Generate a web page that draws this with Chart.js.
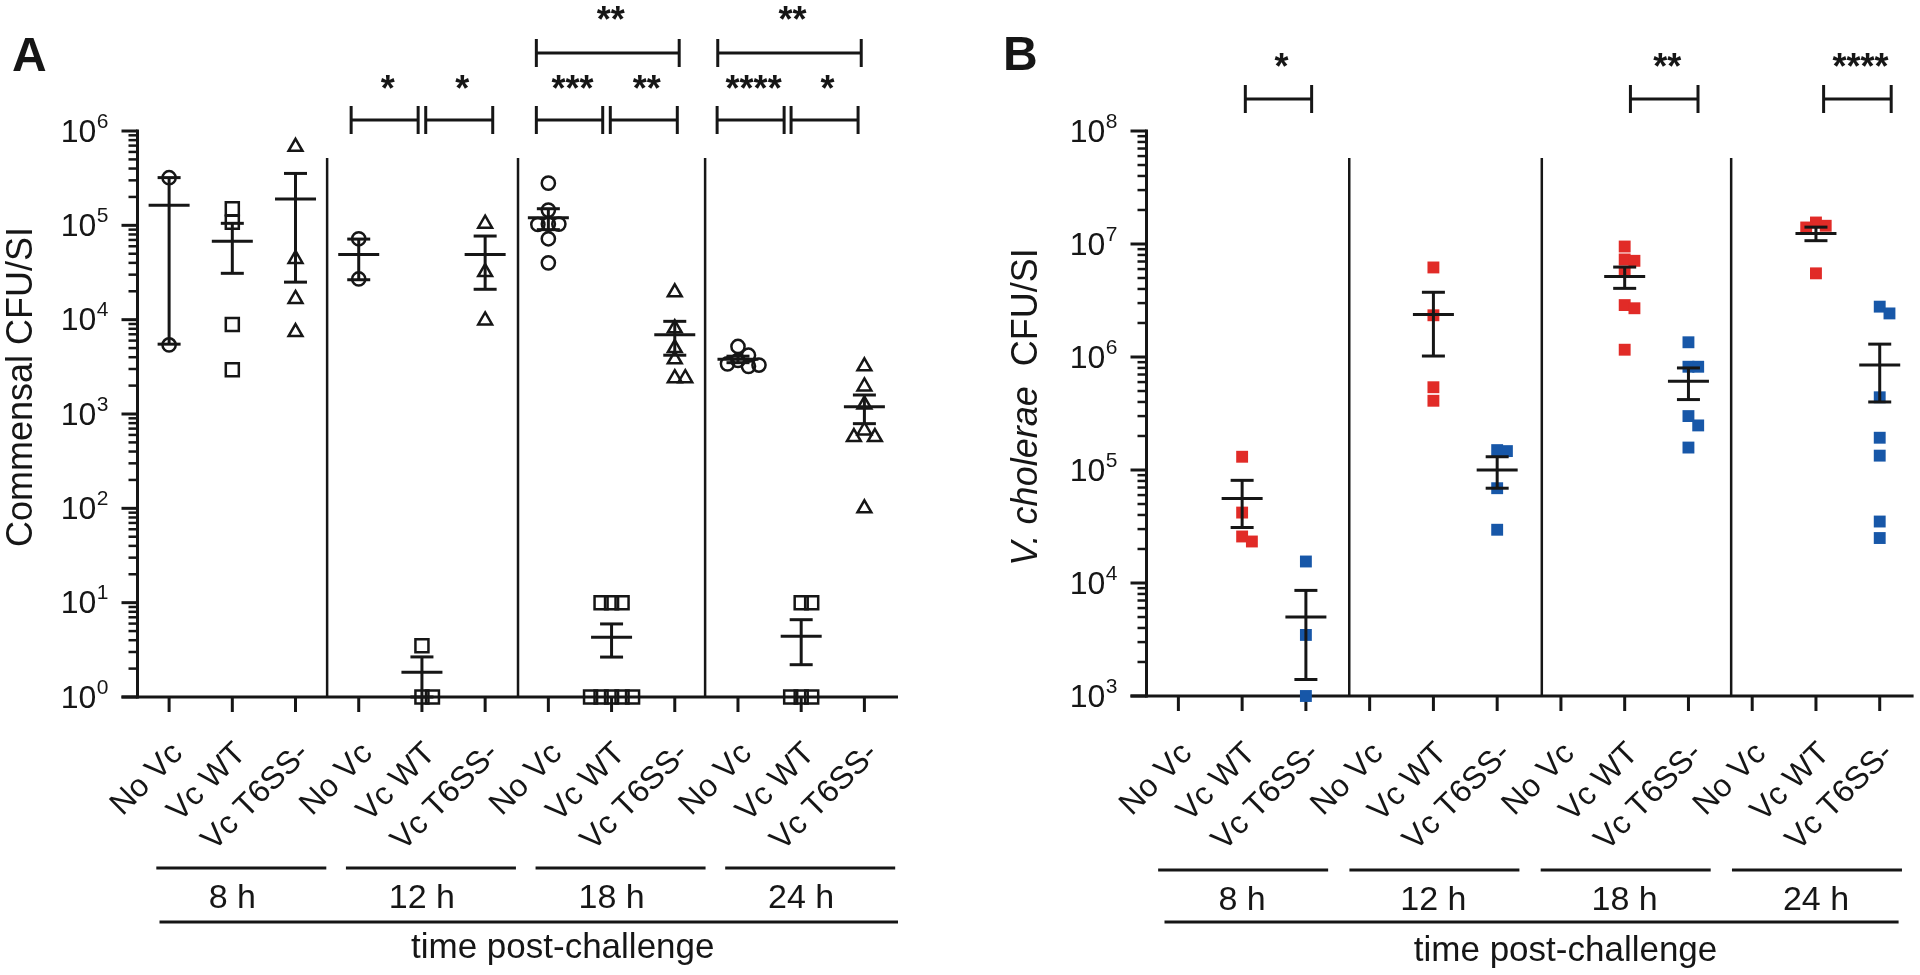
<!DOCTYPE html>
<html><head><meta charset="utf-8">
<script src="https://cdn.jsdelivr.net/npm/chart.js@4.4.1/dist/chart.umd.min.js"></script>
<style>
html,body{margin:0;padding:0;background:#fff;overflow:hidden}
#wrap{position:relative;width:1920px;height:975px;background:#fff}
canvas{position:absolute;top:0;width:960px;height:975px}
#cA{left:0}#cB{left:960px}
</style></head><body>
<div id="wrap"><canvas id="cA" width="960" height="975"></canvas><canvas id="cB" width="960" height="975"></canvas></div>
<script>
// ---------------- data ----------------
const categories = ['No Vc','Vc WT','Vc T6SS-','No Vc','Vc WT','Vc T6SS-','No Vc','Vc WT','Vc T6SS-','No Vc','Vc WT','Vc T6SS-'];
const timeGroups = ['8 h','12 h','18 h','24 h'];
const xTitle = 'time post-challenge';
const yTickExpA = [0,1,2,3,4,5,6];
const yTickExpB = [3,4,5,6,7,8];

// Panel A: commensal CFU/SI, one list per time point (8, 12, 18, 24 h)
const commensalNoVc = [[3.2e5,5.4e3],[7.2e4,2.7e4],[2.8e5,1.45e5,1.03e5,1.03e5,1.02e5,7.2e4,4.0e4],[5.2e3,4.2e3,3.7e3,3.4e3,3.3e3,3.2e3]];
const commensalVcWT = [[1.5e5,1.08e5,8.9e3,2.95e3],[3.5,1,1],[10,10,10,1,1,1,1,1],[10,10,1,1,1]];
const commensalT6SS = [[6.8e5,4.4e4,1.66e4,7.4e3],[1.04e5,3.2e4,9.8e3],[1.95e4,8.1e3,5.0e3,3.8e3,2.4e3,2.4e3],[3.2e3,1.96e3,1.26e3,6.7e2,5.7e2,5.7e2,1.0e2]];
const commensalMean = [1.63e5,6.8e4,1.9e5,4.9e4,1.83,4.9e4,1.2e5,4.3,6.9e3,3.8e3,4.4,1.19e3];
const commensalSEM  = [1.575e5,3.7e4,1.65e5,2.25e4,0.83,2.8e4,3.0e4,1.65,2.7e3,3.0e2,2.2,4.0e2];

// Panel B: V. cholerae CFU/SI
const choleraeWT   = [[1.31e5,4.2e4,2.58e4,2.33e4],[6.2e6,2.34e6,5.4e5,4.1e5],[9.5e6,7.3e6,7.1e6,5.7e6,2.88e6,2.7e6,1.16e6],[1.55e7,1.45e7,1.4e7,5.5e6]];
const choleraeT6SS = [[1.55e4,3.47e3,1.0e3],[1.47e5,1.5e5,6.9e4,2.96e4],[1.35e6,8.2e5,8.2e5,3.0e5,2.48e5,1.58e5],[2.79e6,2.43e6,4.4e5,1.93e5,1.34e5,3.5e4,2.5e4]];
const choleraeMean = [null,5.6e4,5.0e3,null,2.38e6,1.0e5,null,5.15e6,6.1e5,null,1.24e7,8.5e5];
const choleraeSEM  = [null,2.5e4,3.6e3,null,1.36e6,3.1e4,null,1.1e6,1.9e5,null,1.7e6,4.5e5];

// significance brackets (category-axis units)
const bracketFromA  = [2.88,4.06,5.81,6.98,5.81,8.67,9.84,8.68];
const bracketToA    = [3.94,5.12,6.86,8.04,8.07,9.73,10.90,10.95];
const bracketLevelA = [0,0,0,0,1,0,0,1];
const bracketStarsA = ['*','*','***','**','**','****','*','**'];
const bracketFromB  = [1.05,7.09,10.12];
const bracketToB    = [2.09,8.15,11.18];
const bracketLevelB = [0,0,0];
const bracketStarsB = ['*','**','****'];
const dividersA = [2.5,5.52,8.48];
const dividersB = [2.68,5.7,8.67];

// ---------------- drawing ----------------
const INK = '#161616';
const FONT = '"Liberation Sans", Arial, Helvetica, sans-serif';
const RED = '#e12b27', BLUE = '#1757a8';

function seg(ctx,x1,y1,x2,y2){ctx.beginPath();ctx.moveTo(x1,y1);ctx.lineTo(x2,y2);ctx.stroke();}

function panelPlugin(p){
  return {
    id:'panel'+p.letter,
    beforeDatasetsDraw(chart){
      const ctx=chart.ctx, xs=chart.scales.x, ys=chart.scales.y;
      const X=v=>xs.getPixelForValue(v), Y=v=>ys.getPixelForValue(v);
      const L=chart.chartArea.left, R=chart.chartArea.right;
      const T=Y(ys.max), B=Y(ys.min);
      ctx.save();
      ctx.strokeStyle=INK; ctx.fillStyle=INK; ctx.lineCap='butt';
      // dividers
      ctx.lineWidth=2.5;
      p.dividers.forEach(d=>seg(ctx,X(d),T+27,X(d),B));
      // y axis
      ctx.lineWidth=3;
      seg(ctx,L,T-1.5,L,B+1.5);
      // x axis
      seg(ctx,L-16,B,R+2,B);
      // x ticks
      categories.forEach((c,i)=>seg(ctx,X(i),B,X(i),B+15));
      // y ticks
      p.yExp.forEach((e,k)=>{
        const y=Y(Math.pow(10,e));
        ctx.lineWidth=3; seg(ctx,L-16,y,L,y);
        if(k<p.yExp.length-1){
          ctx.lineWidth=2.5;
          for(let m=2;m<=9;m++){const ym=Y(m*Math.pow(10,e)); seg(ctx,L-9,ym,L,ym);}
        }
        // label 10^e
        ctx.textAlign='right'; ctx.textBaseline='middle';
        ctx.font='21px '+FONT;
        const sx=L-29; const es=String(e);
        ctx.fillText(es,sx,y-9);
        const w=ctx.measureText(es).width;
        ctx.font='32px '+FONT;
        ctx.fillText('10',sx-w-0.5,y+2);
      });
      // category labels (rotated)
      ctx.font='32px '+FONT;
      categories.forEach((c,i)=>{
        ctx.save(); ctx.translate(X(i)+p.catDX,p.catY); ctx.rotate(-Math.PI/4);
        ctx.textAlign='right'; ctx.textBaseline='alphabetic'; ctx.fillText(c,0,0); ctx.restore();
      });
      // group lines & labels
      ctx.lineWidth=3;
      timeGroups.forEach((g,k)=>{
        const cx=X(3*k+1);
        seg(ctx,cx+p.groupDX-85,p.groupLineY,cx+p.groupDX+85,p.groupLineY);
        ctx.font='34px '+FONT; ctx.textAlign='center'; ctx.textBaseline='alphabetic';
        ctx.fillText(g,cx,p.groupTextY);
      });
      const fl=X(-0.5)+p.fullL, fr=X(11.5)+p.fullR;
      seg(ctx,fl,922,fr,922);
      ctx.font='35px '+FONT; ctx.textAlign='center';
      ctx.fillText(xTitle,(fl+fr)/2+34,p.xTitleY);
      // y title
      ctx.save(); ctx.translate(p.yTitleX,p.yTitleY); ctx.rotate(-Math.PI/2);
      ctx.textBaseline='middle';
      if(p.letter==='A'){
        ctx.font='36px '+FONT; ctx.textAlign='center'; ctx.fillText('Commensal CFU/SI',0,0);
      } else {
        const it='V. cholerae', rest='  CFU/SI';
        ctx.font='italic 36px '+FONT; const w1=ctx.measureText(it).width;
        ctx.font='36px '+FONT; const w2=ctx.measureText(rest).width;
        const x0=-(w1+w2)/2;
        ctx.textAlign='left';
        ctx.font='italic 36px '+FONT; ctx.fillText(it,x0,0);
        ctx.font='36px '+FONT; ctx.fillText(rest,x0+w1,0);
      }
      ctx.restore();
      // panel letter
      ctx.font='bold 48px '+FONT; ctx.textAlign='left'; ctx.textBaseline='alphabetic';
      ctx.fillText(p.letter,p.letterX,p.letterY);
      // brackets
      ctx.lineWidth=3;
      p.bFrom.forEach((f,k)=>{
        const x1=X(f), x2=X(p.bTo[k]), lv=p.bLevel[k];
        const by=p.bracketY[lv];
        seg(ctx,x1,by,x2,by); seg(ctx,x1,by-14,x1,by+14); seg(ctx,x2,by-14,x2,by+14);
        ctx.font='bold 36px '+FONT; ctx.textAlign='center'; ctx.textBaseline='alphabetic';
        const m=ctx.measureText(p.bStars[k]);
        const base=p.starY[lv]+(m.actualBoundingBoxAscent-m.actualBoundingBoxDescent)/2;
        ctx.fillText(p.bStars[k],(x1+x2)/2+3,base);
      });
      ctx.restore();
    },
    afterDatasetsDraw(chart){
      const ctx=chart.ctx, xs=chart.scales.x, ys=chart.scales.y;
      const X=v=>xs.getPixelForValue(v), Y=v=>ys.getPixelForValue(v);
      const B=Y(ys.min);
      ctx.save(); ctx.strokeStyle=INK; ctx.lineWidth=3; ctx.lineCap='butt';
      p.mean.forEach((m,i)=>{
        if(m==null) return;
        const x=X(i), y=Y(m), s=p.sem[i];
        const yt=Y(m+s), lo=m-s, yb=lo>ys.min?Y(lo):B;
        seg(ctx,x-20.5,y,x+20.5,y);
        seg(ctx,x,yt,x,yb);
        seg(ctx,x-11.5,yt,x+11.5,yt);
        seg(ctx,x-11.5,yb,x+11.5,yb);
      });
      ctx.restore();
    }
  };
}

// beeswarm-like horizontal spreading of overlapping points (pixel space)
function spread(chart,groupCats,groupVals,size){
  const xs=chart.scales.x, ys=chart.scales.y;
  const ppc=xs.getPixelForValue(1)-xs.getPixelForValue(0);
  const out=[];
  groupVals.forEach((vals,k)=>{
    const ci=groupCats[k];
    const items=vals.map(v=>({v,py:ys.getPixelForValue(v)})).sort((a,b)=>a.py-b.py);
    const placed=[];
    const step=size*0.75, thr=size*0.75;
    items.forEach(it=>{
      const cands=[0];
      for(let n=1;n<8;n++){cands.push(n*step,-n*step);}
      let chosen=0;
      for(const dx of cands){
        if(placed.every(q=>Math.hypot(q.dx-dx,q.py-it.py)>=thr)){chosen=dx;break;}
      }
      placed.push({dx:chosen,py:it.py});
      out.push({x:ci+chosen/ppc,y:it.v});
    });
  });
  return out;
}

function baseOptions(pad,ymin,ymax){
  return {
    responsive:false, animation:false, devicePixelRatio:1, events:[],
    layout:{padding:pad},
    plugins:{legend:{display:false},tooltip:{enabled:false}},
    scales:{
      x:{type:'linear',min:-0.5,max:11.5,display:false},
      y:{type:'logarithmic',min:ymin,max:ymax,display:false}
    }
  };
}

function plain(cats,vals){const o=[];vals.forEach((a,k)=>a.forEach(v=>o.push({x:cats[k],y:v})));return o;}

const catNo=[0,3,6,9], catWT=[1,4,7,10], catT6=[2,5,8,11];

const chartA=new Chart(document.getElementById('cA'),{
  type:'scatter',
  data:{datasets:[
    {data:plain(catNo,commensalNoVc),pointStyle:'circle',pointRadius:6.6,borderColor:INK,backgroundColor:'rgba(0,0,0,0)',pointBorderWidth:2.5,clip:false},
    {data:plain(catWT,commensalVcWT),pointStyle:'rect',pointRadius:9.2,borderColor:INK,backgroundColor:'rgba(0,0,0,0)',pointBorderWidth:2.5,clip:false},
    {data:plain(catT6,commensalT6SS),pointStyle:'triangle',pointRadius:8,borderColor:INK,backgroundColor:'rgba(0,0,0,0)',pointBorderWidth:2.5,clip:false}
  ]},
  options:baseOptions({left:137.5,right:64,top:131,bottom:278},1,1e6),
  plugins:[panelPlugin({letter:'A',yExp:yTickExpA,dividers:dividersA,mean:commensalMean,sem:commensalSEM,
    bFrom:bracketFromA,bTo:bracketToA,bLevel:bracketLevelA,bStars:bracketStarsA,bracketY:[120,53],starY:[82,13],
    catDX:15,catY:755,groupLineY:868,groupTextY:908,groupDX:9,fullL:22,fullR:2,xTitleY:958,
    yTitleX:22,yTitleY:387,letterX:12,letterY:71})]
});
chartA.data.datasets[0].data=spread(chartA,catNo,commensalNoVc,14);
chartA.data.datasets[1].data=spread(chartA,catWT,commensalVcWT,14);
chartA.data.datasets[2].data=spread(chartA,catT6,commensalT6SS,14);
chartA.update('none');

const chartB=new Chart(document.getElementById('cB'),{
  type:'scatter',
  data:{datasets:[
    {data:plain(catWT,choleraeWT),pointStyle:'rect',pointRadius:8.4,borderWidth:0,pointBorderWidth:0,backgroundColor:RED,borderColor:RED,clip:false},
    {data:plain(catT6,choleraeT6SS),pointStyle:'rect',pointRadius:8.4,borderWidth:0,pointBorderWidth:0,backgroundColor:BLUE,borderColor:BLUE,clip:false}
  ]},
  options:baseOptions({left:186.5,right:3,top:131,bottom:279},1e3,1e8),
  plugins:[panelPlugin({letter:'B',yExp:yTickExpB,dividers:dividersB,mean:choleraeMean,sem:choleraeSEM,
    bFrom:bracketFromB,bTo:bracketToB,bLevel:bracketLevelB,bStars:bracketStarsB,bracketY:[99],starY:[60],
    catDX:15,catY:755,groupLineY:870,groupTextY:910,groupDX:1,fullL:18,fullR:-13,xTitleY:961,
    yTitleX:67,yTitleY:407,letterX:43,letterY:70})]
});
chartB.data.datasets[0].data=spread(chartB,catWT,choleraeWT,13);
chartB.data.datasets[1].data=spread(chartB,catT6,choleraeT6SS,13);
chartB.update('none');
</script>
</body></html>
